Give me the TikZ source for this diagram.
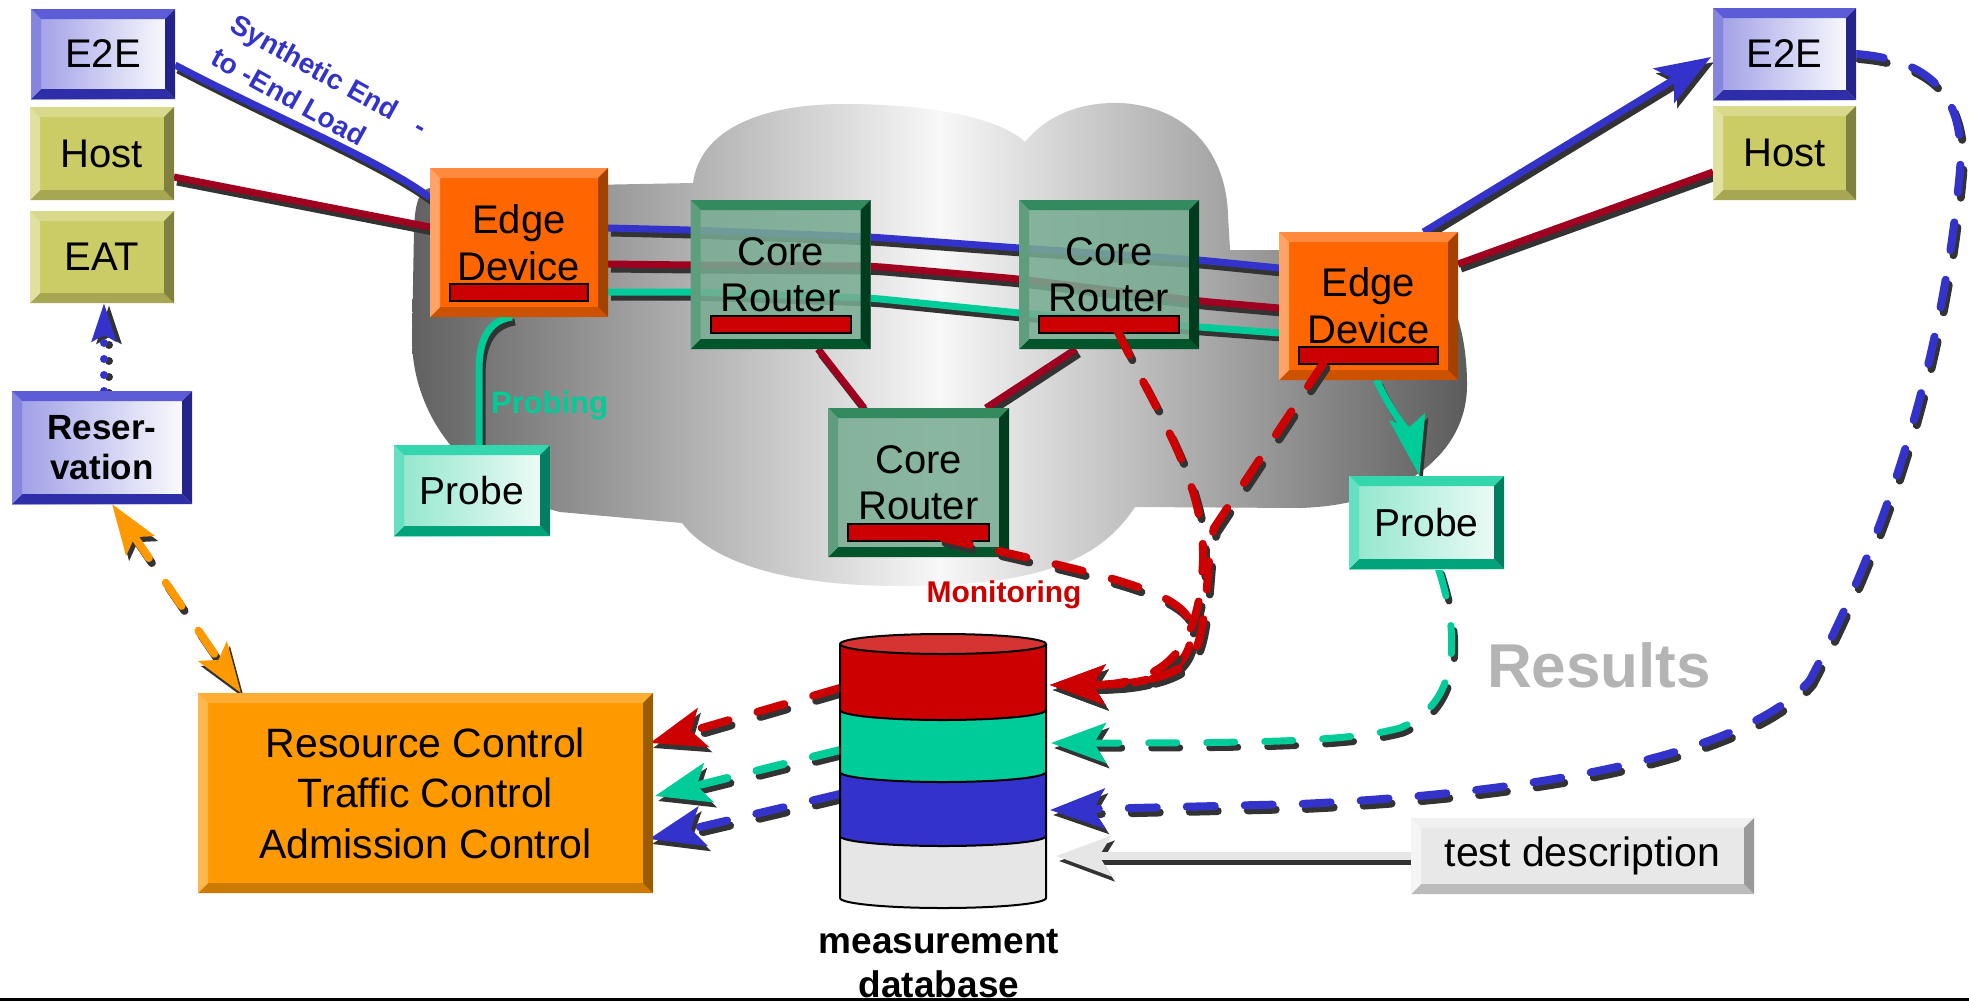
\documentclass[tikz,border=0pt]{standalone}
\usepackage{fontspec}
\setmainfont{Liberation Sans}
\usetikzlibrary{arrows.meta,calc}
\pgfdeclarelayer{cloudlayer}
\pgfdeclarelayer{linelayer}
\pgfsetlayers{cloudlayer,linelayer,main}

\definecolor{blueC}{HTML}{3333CC}
\definecolor{maroonC}{HTML}{A0001F}
\definecolor{redC}{HTML}{CC0000}
\definecolor{redTop}{HTML}{D63333}
\definecolor{greenC}{HTML}{00CC99}
\definecolor{orangeC}{HTML}{FF9900}
\definecolor{shadowC}{HTML}{333333}
\definecolor{lgrayC}{HTML}{E6E6E6}
\definecolor{resultsC}{HTML}{B4B4B4}
\definecolor{e2eT}{HTML}{5C5CD6}
\definecolor{e2eL}{HTML}{8585E0}
\definecolor{e2eR}{HTML}{24248A}
\definecolor{e2eB}{HTML}{2E2EA8}
\definecolor{e2eF}{HTML}{9C9CE6}
\definecolor{hostT}{HTML}{D9D98C}
\definecolor{hostL}{HTML}{E0E0A0}
\definecolor{hostR}{HTML}{808040}
\definecolor{hostB}{HTML}{A6A653}
\definecolor{hostF}{HTML}{CCCC66}
\definecolor{edgeT}{HTML}{FF8A3D}
\definecolor{edgeL}{HTML}{FFA366}
\definecolor{edgeR}{HTML}{A34200}
\definecolor{edgeB}{HTML}{CC5200}
\definecolor{edgeF}{HTML}{FF6600}
\definecolor{coreT}{HTML}{338A5F}
\definecolor{coreL}{HTML}{5E9E7E}
\definecolor{coreR}{HTML}{003D1F}
\definecolor{coreB}{HTML}{00552B}
\definecolor{coreF}{HTML}{78AC92}
\definecolor{probT}{HTML}{33D6AD}
\definecolor{probL}{HTML}{66E0C2}
\definecolor{probR}{HTML}{008060}
\definecolor{probB}{HTML}{00A37A}
\definecolor{probF}{HTML}{8FE6CC}
\definecolor{rcT}{HTML}{FFAD33}
\definecolor{rcL}{HTML}{FFB84D}
\definecolor{rcR}{HTML}{995C00}
\definecolor{rcB}{HTML}{CC7A00}
\definecolor{rcF}{HTML}{FF9900}
\definecolor{tdT}{HTML}{F0F0F0}
\definecolor{tdL}{HTML}{F5F5F5}
\definecolor{tdR}{HTML}{999999}
\definecolor{tdB}{HTML}{BBBBBB}
\definecolor{tdF}{HTML}{E8E8E8}

\def\bevw{10pt}
\tikzset{
  bev/.style={path picture={
    \coordinate (pNW) at (path picture bounding box.north west);
    \coordinate (pNE) at (path picture bounding box.north east);
    \coordinate (pSW) at (path picture bounding box.south west);
    \coordinate (pSE) at (path picture bounding box.south east);
    \fill[#1T,fill opacity=1] (pNW) -- (pNE) -- ([xshift=-\bevw,yshift=-\bevw]pNE) -- ([xshift=\bevw,yshift=-\bevw]pNW) -- cycle;
    \fill[#1B,fill opacity=1] (pSW) -- (pSE) -- ([xshift=-\bevw,yshift=\bevw]pSE) -- ([xshift=\bevw,yshift=\bevw]pSW) -- cycle;
    \fill[#1L,fill opacity=1] (pNW) -- ([xshift=\bevw,yshift=-\bevw]pNW) -- ([xshift=\bevw,yshift=\bevw]pSW) -- (pSW) -- cycle;
    \fill[#1R,fill opacity=1] (pNE) -- ([xshift=-\bevw,yshift=-\bevw]pNE) -- ([xshift=-\bevw,yshift=\bevw]pSE) -- (pSE) -- cycle;
  }},
  bx/.style={inner sep=0pt, outer sep=0pt, align=center, text=black, text opacity=1},
  e2ebox/.style={bx, left color=e2eF, right color=white, bev=e2e, font=\fontsize{40}{46}\selectfont},
  hostbox/.style={bx, fill=hostF, bev=host, font=\fontsize{40}{46}\selectfont},
  edgebox/.style={bx, fill=edgeF, bev=edge, minimum width=178pt, minimum height=149pt, font=\fontsize{40}{47}\selectfont},
  corebox/.style={bx, fill=coreF, fill opacity=0.86, bev=core, minimum width=180pt, minimum height=149pt, font=\fontsize{40}{46}\selectfont},
  probebox/.style={bx, left color=probF, right color=white!88!probF, bev=prob, font=\fontsize{39}{45}\selectfont},
  barsty/.style={fill=redC, draw=black, line width=2pt},
  shadowshift/.style={transform canvas={xshift=3pt,yshift=-5pt}},
  Sline/.style={line width=7pt, #1, preaction={draw=shadowC, line width=7pt, #1, shadowshift}},
  Sline/.default={},
  Dline/.style={line width=8pt, line cap=round, dash pattern=on 28pt off 30pt, #1,
     preaction={draw=shadowC, line width=8pt, line cap=round, dash pattern=on 28pt off 30pt, #1, shadowshift}},
  Dline/.default={},
  Pline/.style={line width=8pt, line cap=round, dash pattern=on 0pt off 16pt, #1,
     preaction={draw=shadowC, line width=8pt, line cap=round, dash pattern=on 0pt off 16pt, #1, transform canvas={xshift=5pt,yshift=-2pt}}},
  bigtip/.style={-{Stealth[length=55pt,width=40pt,inset=12pt]}},
  greentip/.style={-{Stealth[length=60pt,width=36pt,inset=10pt]}},
  dottip/.style={-{Stealth[length=38pt,width=24pt,inset=6pt]}},
  twotips/.style={{Stealth[length=50pt,width=34pt,inset=10pt]}-{Stealth[length=50pt,width=34pt,inset=10pt]}},
  lbl/.style={inner sep=0pt, outer sep=0pt},
}
\newcommand\redbar[1]{\draw[barsty] ([xshift=20pt,yshift=16pt]#1.south west) rectangle ([xshift=-20pt,yshift=33pt]#1.south east);}

\begin{document}
\begin{tikzpicture}[x=1pt,y=-1pt]
\useasboundingbox (0,0) rectangle (1969,1002);

% ---------- cloud ----------
\begin{pgfonlayer}{cloudlayer}
\fill[white] (0,0) rectangle (1969,1002);
\shade[left color=black!62, right color=black!64, middle color=black!3]
  (430,188) -- (693,183)
  .. controls (700,130) and (760,104) .. (845,104)
  .. controls (930,104) and (1000,118) .. (1025,142)
  .. controls (1050,112) and (1085,102) .. (1120,103)
  .. controls (1185,106) and (1226,150) .. (1228,215)
  -- (1230,250) -- (1395,250)
  .. controls (1445,262) and (1467,320) .. (1467,385)
  .. controls (1467,455) and (1400,505) .. (1300,508)
  -- (1135,507)
  .. controls (1100,560) and (1040,586) .. (900,586)
  .. controls (780,586) and (710,560) .. (682,523)
  -- (560,512)
  .. controls (470,490) and (413,420) .. (412,340)
  -- (414,230) .. controls (415,200) and (420,190) .. (430,188) -- cycle;
\end{pgfonlayer}

% ---------- boxes ----------
\node[e2ebox, minimum width=144pt, minimum height=90pt] (leftE2E) at (103,54) {E2E};
\node[hostbox, minimum width=144pt, minimum height=93pt] (leftHost) at (102,153.5) {Host};
\node[hostbox, minimum width=144pt, minimum height=92pt] (leftEAT) at (102,257) {EAT};
\node[e2ebox, minimum width=180pt, minimum height=113pt, font=\bfseries\fontsize{35}{40}\selectfont] (resv) at (102,447.5) {Reser-\\vation};
\node[edgebox] (leftEdge) at (519,242.5) {Edge\\Device};
\node[corebox] (core1) at (780.5,274.5) {Core\\Router};
\node[corebox] (core2) at (1109,274.5) {Core\\Router};
\node[corebox, minimum width=181pt] (core3) at (918.5,482.5) {Core\\Router};
\node[edgebox, minimum width=179pt, minimum height=148pt] (rightEdge) at (1368.5,306) {Edge\\Device};
\node[probebox, minimum width=156pt, minimum height=91pt] (leftProbe) at (472,490.5) {Probe};
\node[probebox, minimum width=155pt, minimum height=93pt] (rightProbe) at (1426.5,522.5) {Probe};
\node[e2ebox, minimum width=143pt, minimum height=92pt] (rightE2E) at (1784.5,54) {E2E};
\node[hostbox, minimum width=143pt, minimum height=94pt] (rightHost) at (1784.5,153) {Host};
\node[bx, fill=rcF, bev=rc, minimum width=455pt, minimum height=200pt, font=\fontsize{41}{50.5}\selectfont] (ctrl) at (425.5,793) {Resource Control\\Traffic Control\\Admission Control};
\node[bx, fill=tdF, bev=td, minimum width=343pt, minimum height=76pt, font=\fontsize{41}{46}\selectfont] (testdesc) at (1582.5,856) {test description};
\node[lbl, minimum width=206pt, minimum height=254pt] (db) at (943,771) {};

\redbar{leftEdge}
\redbar{core1}
\redbar{core2}
\redbar{core3}
\redbar{rightEdge}

% ---------- database cylinder ----------
\fill[lgrayC] (840,836) -- (840,898) arc[start angle=180,end angle=0,x radius=103,y radius=10] -- (1046,836) -- cycle;
\draw[line width=2pt] (840,836) -- (840,898) arc[start angle=180,end angle=0,x radius=103,y radius=10] -- (1046,836);
\fill[blueC] (840,772) -- (840,836) arc[start angle=180,end angle=0,x radius=103,y radius=10] -- (1046,772) -- cycle;
\draw[line width=2pt] (840,772) -- (840,836) arc[start angle=180,end angle=0,x radius=103,y radius=10] -- (1046,772);
\fill[greenC] (840,710) -- (840,772) arc[start angle=180,end angle=0,x radius=103,y radius=10] -- (1046,710) -- cycle;
\draw[line width=2pt] (840,710) -- (840,772) arc[start angle=180,end angle=0,x radius=103,y radius=10] -- (1046,710);
\fill[redC] (840,644) -- (840,710) arc[start angle=180,end angle=0,x radius=103,y radius=10] -- (1046,644) -- cycle;
\draw[line width=2pt] (840,644) -- (840,710) arc[start angle=180,end angle=0,x radius=103,y radius=10] -- (1046,644);
\filldraw[fill=redTop, draw=black, line width=2pt] (943,644) ellipse[x radius=103, y radius=10];

% ---------- connectors under the boxes ----------
\begin{pgfonlayer}{linelayer}
\draw[Sline, blueC] ($(leftE2E.east)+(0,11)$) .. controls (280,120) and (380,160) .. ($(leftEdge.west)+(0,-45)$);
\draw[Sline, maroonC] ($(leftHost.east)+(0,23.5)$) -- ($(leftEdge.west)+(0,-15.5)$);
\draw[Sline, blueC, rounded corners=15pt] ($(leftEdge.east)+(0,-14.5)$) -- ($(core1.west)+(0,-44.5)$) -- ($(core1.east)+(0,-37.5)$) -- ($(core2.west)+(0,-26.5)$) -- ($(core2.east)+(0,-14.5)$) -- ($(rightEdge.west)+(0,-38)$);
\draw[Sline, maroonC, rounded corners=15pt] ($(leftEdge.east)+(0,21.5)$) -- ($(core1.west)+(0,-9.5)$) -- ($(core1.east)+(0,-8.5)$) -- ($(core2.west)+(0,4.5)$) -- ($(core2.east)+(0,26.5)$) -- ($(rightEdge.west)+(0,2)$);
\draw[Sline, greenC, rounded corners=15pt] ($(leftEdge.east)+(0,49.5)$) -- ($(core1.west)+(0,17.5)$) -- ($(core1.east)+(0,23.5)$) -- ($(core2.west)+(0,38.5)$) -- ($(core2.east)+(0,52.5)$) -- ($(rightEdge.west)+(0,27)$);
\draw[Sline, maroonC] ($(core1.south)+(37.5,0)$) -- ($(core3.north)+(-54.5,0)$);
\draw[Sline, maroonC] ($(core2.south)+(-33,0)$) -- ($(core3.north)+(67.5,0)$);
\draw[Sline=bigtip, blueC] ($(rightEdge.north)+(55,0)$) -- ($(rightE2E.west)+(-2,3)$);
\draw[Sline, maroonC] ($(rightEdge.east)+(0,-42)$) -- ($(rightHost.west)+(0,19)$);
\draw[Sline=greentip, greenC] ($(rightEdge.south)+(8,0)$) .. controls (1390,410) and (1412,440) .. ($(rightProbe.north)+(-7,0)$);
\draw[Sline, greenC] ($(leftProbe.north)+(7,0)$) -- (479,370) .. controls (479,335) and (492,320) .. ($(leftEdge.south)+(-7,0)$);
\draw[Pline=dottip, blueC] ($(resv.north)+(2,0)$) -- ($(leftEAT.south)+(2,0)$);
\draw[Dline={twotips}, orangeC] ($(resv.south)+(10,0)$) -- ($(ctrl.north west)+(43,0)$);
\draw[Dline=bigtip, redC] ($(db.west)+(0,-83)$) -- ($(ctrl.east)+(-3,-50)$);
\draw[Dline=bigtip, greenC] ($(db.west)+(0,-21)$) -- ($(ctrl.east)+(2,3)$);
\draw[Dline=bigtip, blueC] ($(db.west)+(0,23)$) -- ($(ctrl.east)+(-4,46)$);
\draw[Dline={bigtip, line width=7pt}, greenC] ($(rightProbe.south)+(12,0)$) .. controls (1455,620) and (1468,700) .. (1400,728) .. controls (1350,742) and (1250,743) .. ($(db.east)+(5,-28)$);
\draw[Dline=bigtip, blueC] (rightE2E.east) .. controls (1935,60) and (1965,100) .. (1960,170) .. controls (1945,340) and (1895,520) .. (1810,680) .. controls (1760,740) and (1600,790) .. (1300,804) -- ($(db.east)+(4,39)$);
\draw[Sline={bigtip, line width=8pt}, lgrayC] (testdesc.west) -- ($(db.east)+(10,85)$);
\end{pgfonlayer}

% ---------- monitoring (over the boxes) ----------
\draw[Dline=bigtip, redC] ($(core3.south)+(24,-19)$) .. controls (1100,575) and (1190,590) .. (1192,630) .. controls (1190,670) and (1160,685) .. ($(db.east)+(4,-86)$);
\draw[Dline=bigtip, redC] ($(core2.south)+(8,-19)$) .. controls (1155,410) and (1205,480) .. (1203,560) .. controls (1200,650) and (1165,685) .. ($(db.east)+(4,-86)$);
\draw[Dline=bigtip, redC] ($(rightEdge.south)+(-45,-17)$) -- (1214,528) .. controls (1205,560) and (1210,640) .. (1188,662) .. controls (1165,682) and (1120,685) .. ($(db.east)+(4,-86)$);

% ---------- labels ----------
\node[lbl, font=\bfseries\fontsize{28}{38}\selectfont, text=blueC, rotate=-29, anchor=north west, align=left] (synth) at (238,13) {Synthetic End\hspace{24pt}-\\to -End Load};
\node[lbl, font=\bfseries\fontsize{31}{36}\selectfont, text=greenC, anchor=base west] (probing) at (491,413) {Probing};
\node[lbl, font=\bfseries\fontsize{30}{36}\selectfont, text=redC, anchor=base] (monitoring) at (1004,602) {Monitoring};
\node[lbl, font=\bfseries\fontsize{62}{70}\selectfont, text=resultsC, anchor=base west] (results) at (1487,687) {Results};
\node[lbl, font=\bfseries\fontsize{37}{44}\selectfont, anchor=base] (dbl1) at (939,953) {measurement};
\node[lbl, font=\bfseries\fontsize{37}{44}\selectfont, anchor=base] (dbl2) at (939,997) {database};

\draw[line width=3pt] (0,999.5) -- (1969,999.5);
\end{tikzpicture}
\end{document}
